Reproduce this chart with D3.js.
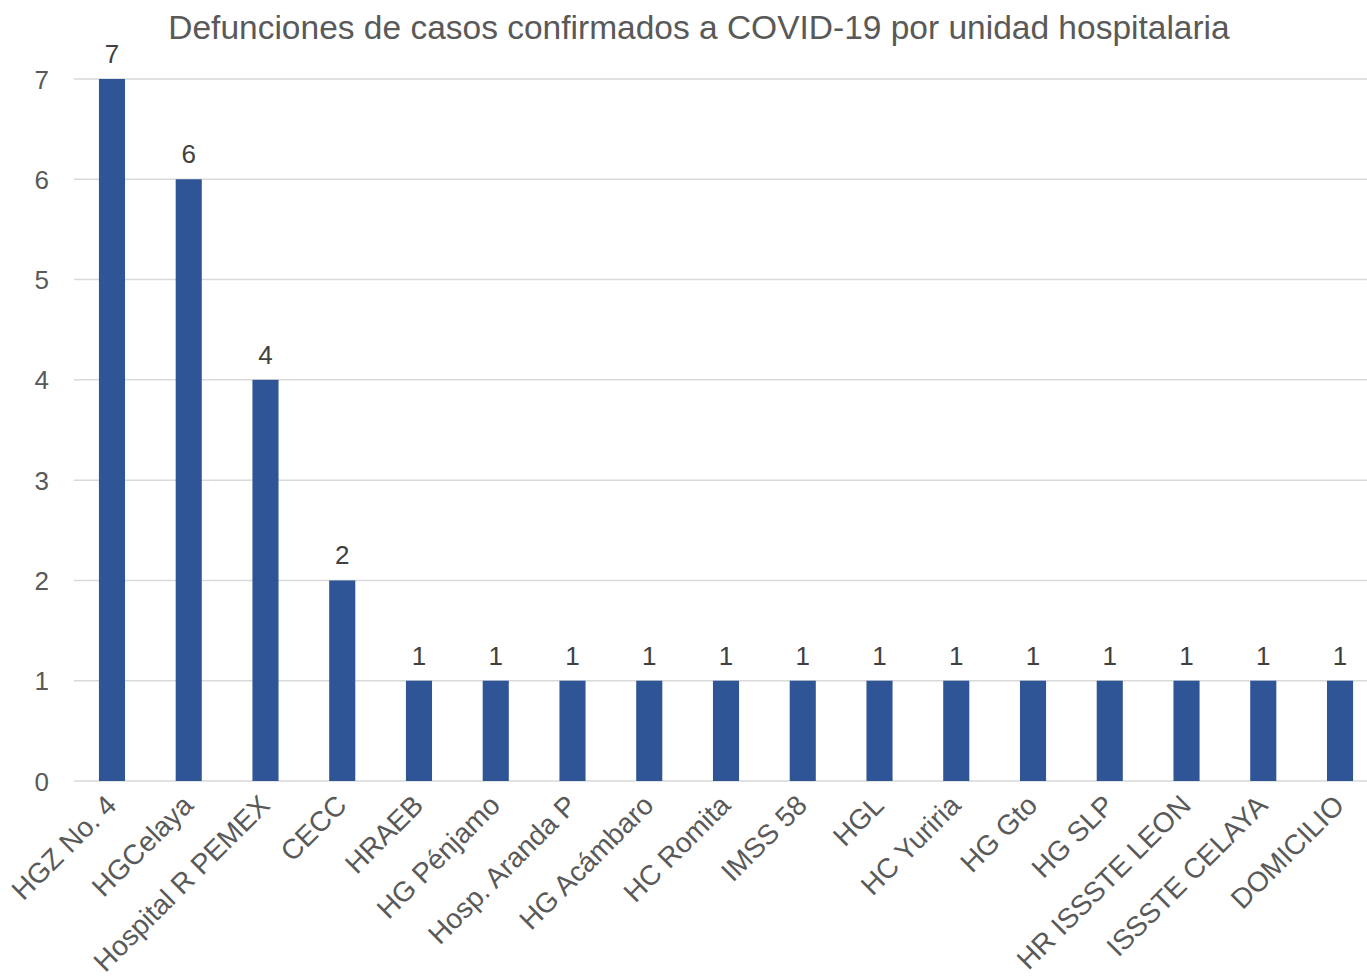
<!DOCTYPE html>
<html><head><meta charset="utf-8">
<script src="https://cdn.jsdelivr.net/npm/d3@7"></script>
<style>body{margin:0;background:#fff}svg{display:block;font-family:"Liberation Sans",Arial,sans-serif}</style>
</head><body>
<svg id="c" width="1367" height="980"></svg>
<script>
const categories = ["HGZ No. 4","HGCelaya","Hospital R PEMEX","CECC","HRAEB","HG Pénjamo","Hosp. Aranda P","HG Acámbaro","HC Romita","IMSS 58","HGL","HC Yuriria","HG Gto","HG SLP","HR ISSSTE LEON","ISSSTE CELAYA","DOMICILIO"];
const values = [7,6,4,2,1,1,1,1,1,1,1,1,1,1,1,1,1];
const yTicks = [0,1,2,3,4,5,6,7];
const title = "Defunciones de casos confirmados a COVID-19 por unidad hospitalaria";

const svg = d3.select("#c");
const x = d3.scaleBand().domain(categories).range([73.6, 1378.4]).paddingInner(0.66).paddingOuter(0.33);
const y = d3.scaleLinear().domain([0,7]).range([781, 79]);

svg.append("text").attr("x", 699).attr("y", 39).attr("text-anchor","middle")
  .attr("font-size", 33.5).attr("fill","#595959").text(title);

const grid = svg.append("g");
grid.selectAll("line").data(yTicks).join("line")
  .attr("x1", 74).attr("x2", 1367)
  .attr("y1", d=>y(d)).attr("y2", d=>y(d))
  .attr("stroke","#d9d9d9").attr("stroke-width",1.5);

svg.append("g").selectAll("text").data(yTicks).join("text")
  .attr("x", 49).attr("y", d=>y(d)+9.5).attr("text-anchor","end")
  .attr("font-size", 26).attr("fill","#595959").text(d=>d);

svg.append("g").selectAll("rect").data(values).join("rect")
  .attr("x", (d,i)=>x(categories[i])).attr("width", x.bandwidth())
  .attr("y", d=>y(d)).attr("height", d=>y(0)-y(d))
  .attr("fill","#2F5597");

svg.append("g").selectAll("text").data(values).join("text")
  .attr("x", (d,i)=>x(categories[i])+x.bandwidth()/2).attr("y", d=>y(d)-16)
  .attr("text-anchor","middle").attr("font-size", 26).attr("fill","#404040").text(d=>d);

svg.append("g").selectAll("text").data(categories).join("text")
  .attr("transform", d=>`translate(${x(d)+x.bandwidth()/2+6},${y(0)+26}) rotate(-45)`)
  .attr("text-anchor","end").attr("font-size", 28).attr("fill","#595959").text(d=>d);
</script>
</body></html>
